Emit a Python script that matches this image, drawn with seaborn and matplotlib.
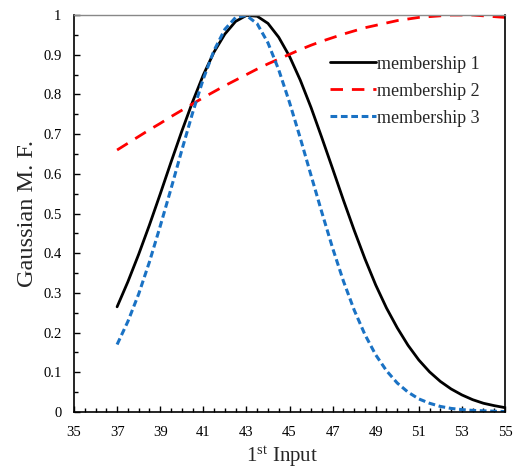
import numpy as np
import pandas as pd
import matplotlib
matplotlib.use("Agg")
import matplotlib.pyplot as plt
from matplotlib.ticker import MultipleLocator, FuncFormatter
import seaborn as sns

# ---- data ----
x_input = [37, 37.5, 38, 38.5, 39, 39.5, 40, 40.5, 41, 41.5, 42, 42.5, 43, 43.5,
           44, 44.5, 45, 45.5, 46, 46.5, 47, 47.5, 48, 48.5, 49, 49.5, 50, 50.5,
           51, 51.5, 52, 52.5, 53, 53.5, 54, 54.5, 55]

membership_1 = [0.265, 0.328, 0.397, 0.471, 0.549, 0.629, 0.707, 0.781, 0.849, 0.907,
                0.952, 0.984, 0.999, 0.997, 0.979, 0.944, 0.896, 0.836, 0.767, 0.691,
                0.613, 0.534, 0.458, 0.386, 0.320, 0.262, 0.212, 0.168, 0.131, 0.101,
                0.077, 0.058, 0.043, 0.031, 0.022, 0.016, 0.011]

membership_2 = [0.660, 0.677, 0.694, 0.711, 0.727, 0.744, 0.760, 0.776, 0.792, 0.807,
                0.822, 0.836, 0.850, 0.864, 0.877, 0.889, 0.901, 0.913, 0.924, 0.934,
                0.943, 0.952, 0.960, 0.968, 0.974, 0.980, 0.986, 0.990, 0.994, 0.996,
                0.998, 1.000, 1.000, 1.000, 0.998, 0.996, 0.994]

membership_3 = [0.170, 0.228, 0.297, 0.378, 0.468, 0.562, 0.659, 0.753, 0.839, 0.911,
                0.964, 0.994, 0.999, 0.978, 0.930, 0.862, 0.780, 0.690, 0.596, 0.503,
                0.413, 0.330, 0.257, 0.195, 0.144, 0.104, 0.073, 0.050, 0.033, 0.022,
                0.014, 0.009, 0.006, 0.004, 0.003, 0.002, 0.001]

series_names = ["membership 1", "membership 2", "membership 3"]
x_ticks = [35, 37, 39, 41, 43, 45, 47, 49, 51, 53, 55]

df = pd.DataFrame({
    "x": x_input * 3,
    "y": membership_1 + membership_2 + membership_3,
    "series": [series_names[0]] * len(x_input) + [series_names[1]] * len(x_input)
              + [series_names[2]] * len(x_input),
})

sns.set_theme(style="white")
plt.rcParams["font.family"] = ["Liberation Serif", "DejaVu Serif"]
plt.rcParams["mathtext.fontset"] = "custom"
plt.rcParams["mathtext.rm"] = "Liberation Serif"
plt.rcParams["mathtext.it"] = "Liberation Serif:italic"

fig = plt.figure(figsize=(5.16, 4.70), dpi=100)
ax = fig.add_axes([0.1434, 0.1234, 0.8353, 0.8446])

styles = {
    "membership 1": dict(color="#000000", dashes=None, lw=2.0),
    "membership 2": dict(color="#FF0000", dashes=(4.5, 3.2), lw=2.0),
    "membership 3": dict(color="#1A72C4", dashes=(2.2, 1.2), lw=2.2),
}

for name in series_names:
    sub = df[df["series"] == name]
    st = styles[name]
    sns.lineplot(data=sub, x="x", y="y", ax=ax, color=st["color"],
                 linewidth=st["lw"], label=name)
    ln = ax.get_lines()[-1]
    if st["dashes"] is not None:
        ln.set_dashes(st["dashes"])

ax.set_xlim(35, 55)
ax.set_ylim(0, 1)
ax.set_xticks(x_ticks)
ax.xaxis.set_minor_locator(MultipleLocator(0.5))
ax.yaxis.set_major_locator(MultipleLocator(0.1))
ax.yaxis.set_minor_locator(MultipleLocator(0.05))
ax.yaxis.set_major_formatter(FuncFormatter(
    lambda v, p: "0" if abs(v) < 1e-9 else f"{v:.1f}".rstrip("0").rstrip(".")))

ax.tick_params(axis="both", which="both", direction="in", colors="black",
               labelsize=10.5, left=True, bottom=True, top=False, right=False)
ax.tick_params(axis="both", which="major", length=4, width=1)
ax.tick_params(axis="both", which="minor", length=3, width=1)
ax.tick_params(axis="x", which="major", pad=10)
ax.tick_params(axis="y", which="major", pad=9)

for side in ["left", "bottom", "right"]:
    ax.spines[side].set_color("black")
    ax.spines[side].set_linewidth(1.2)
    ax.spines[side].set_visible(True)
ax.spines["top"].set_color("#888888")
ax.spines["top"].set_linewidth(1.0)
ax.spines["top"].set_visible(True)

ax.set_xlabel("1$^{\\mathrm{st}}$ Input", fontsize=15, labelpad=4)
ax.xaxis.label.set_x(0.4826)
ax.set_ylabel("Gaussian M. F.", fontsize=17.5, labelpad=4)

ax.legend(loc="upper left", bbox_to_anchor=(0.594, 0.898), frameon=False,
          borderpad=0, borderaxespad=0, fontsize=13, handlelength=2.55,
          handletextpad=0.05, labelspacing=0.56)

fig.savefig("out.png", dpi=100, facecolor="white")
